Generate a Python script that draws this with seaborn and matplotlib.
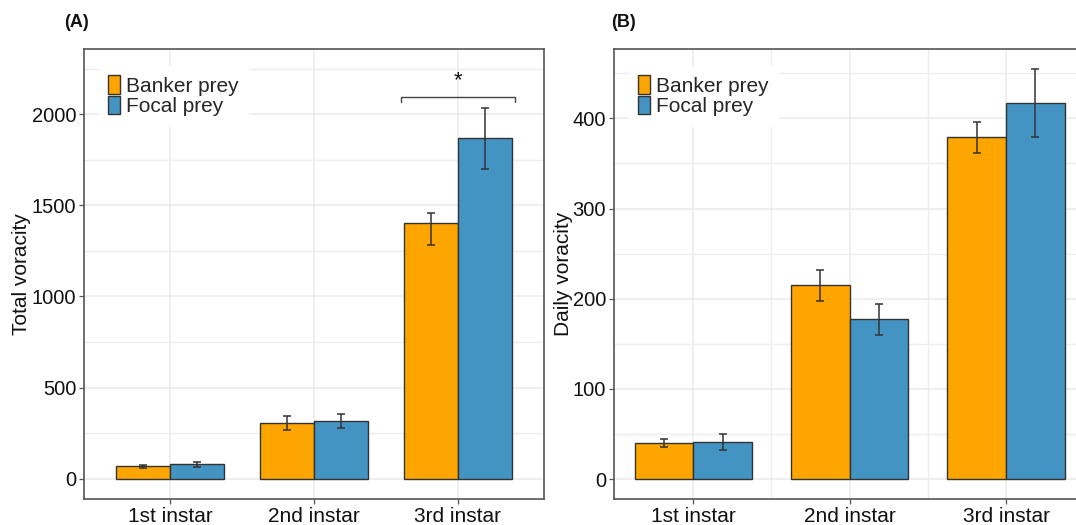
import matplotlib
matplotlib.use("Agg")
import matplotlib.pyplot as plt
from matplotlib.ticker import MultipleLocator
import seaborn as sns
import pandas as pd

# values
instars = ["1st instar", "2nd instar", "3rd instar"]
prey_types = ["Banker prey", "Focal prey"]

total_banker = [69, 307, 1404]
total_focal = [79, 316, 1868]
total_banker_lo = [8, 40, 124]
total_banker_hi = [8, 40, 53]
total_focal_lo = [14, 37, 170]
total_focal_hi = [15, 39, 167]

daily_banker = [40, 215, 379]
daily_focal = [41, 177, 417]
daily_banker_err = [4.3, 17, 17]
daily_focal_err = [8.6, 17.5, 37.6]

# significance bracket on panel A (3rd instar)
sig_group = 2
sig_y = 2095
sig_drop = 27
sig_label = "*"

colors = {"Banker prey": "#FFA500", "Focal prey": "#4393C3"}

sns.set_theme(style="white")
plt.rcParams["font.family"] = ["Liberation Sans", "DejaVu Sans"]

fig = plt.figure(figsize=(10.76, 5.25), dpi=100)
W, H = 1076, 525
axA = fig.add_axes([84 / W, 25.7 / H, 460 / W, 450.3 / H])
axB = fig.add_axes([613.7 / W, 25.7 / H, 486.2 / W, 450.3 / H])


def make_df(banker, focal):
    return pd.DataFrame({
        "instar": instars * 2,
        "prey": [prey_types[0]] * 3 + [prey_types[1]] * 3,
        "value": list(banker) + list(focal),
    })


def draw_panel(ax, df, lo, hi, ylim, major, minor_x):
    sns.barplot(data=df, x="instar", y="value", hue="prey", order=instars,
                hue_order=prey_types, palette=colors, width=0.75,
                saturation=1, errorbar=None, edgecolor="#333333",
                linewidth=1.0, ax=ax, zorder=2)
    # error bars at bar centres (patches come hue by hue)
    bars = [p for p in ax.patches if p.get_width() > 0][:6]
    xs = [b.get_x() + b.get_width() / 2 for b in bars]
    ax.errorbar(xs, df["value"], yerr=[lo, hi], fmt="none",
                ecolor="#333333", elinewidth=1.1, capsize=2.9,
                capthick=1.1, zorder=3)
    ax.set_ylim(*ylim)
    ax.yaxis.set_major_locator(MultipleLocator(major))
    ax.yaxis.set_minor_locator(MultipleLocator(major / 2))
    ax.set_xticks(range(3))
    ax.set_xticklabels(instars)
    if minor_x:
        ax.set_xticks([0.5, 1.5, 2.5], minor=True)
    ax.grid(which="major", color="#EBEBEB", linewidth=1.1, zorder=0)
    ax.grid(which="minor", axis="y", color="#EEEEEE", linewidth=1.0, zorder=0)
    if minor_x:
        ax.grid(which="minor", axis="x", color="#EEEEEE", linewidth=1.0, zorder=0)
    ax.set_axisbelow(True)
    for s in ax.spines.values():
        s.set_color("#555555")
        s.set_linewidth(1.2)
    ax.tick_params(axis="both", which="major", length=3.5, width=0.9,
                   color="#555555", pad=2, left=True, bottom=True)
    ax.tick_params(axis="y", labelsize=14.5, labelcolor="#111111")
    ax.tick_params(axis="x", labelsize=15, labelcolor="#111111")
    ax.tick_params(which="minor", length=0)
    ax.set_xlabel("")
    handles, labels = ax.get_legend_handles_labels()
    ax.get_legend().remove()
    leg = ax.legend(handles, labels, loc="upper left",
                    bbox_to_anchor=(15 / (ax.get_position().width * W), 1 - 17 / 450.3),
                    borderaxespad=0, borderpad=0.45, frameon=True,
                    fancybox=False, edgecolor="white", facecolor="white",
                    framealpha=1, fontsize=15, handlelength=0.56,
                    handleheight=1.0, labelspacing=0.0, handletextpad=0.3)
    leg.set_zorder(5)
    return ax


dfA = make_df(total_banker, total_focal)
draw_panel(axA, dfA, total_banker_lo + total_focal_lo,
           total_banker_hi + total_focal_hi, (-112, 2357), 500, False)
axA.set_xlim(-0.6, 2.6)
axA.set_ylabel("Total voracity", fontsize=15, color="#111111")
axA.yaxis.set_label_coords(-53 / 460, 0.5)

dfB = make_df(daily_banker, daily_focal)
draw_panel(axB, dfB, daily_banker_err + daily_focal_err,
           daily_banker_err + daily_focal_err, (-22.5, 477), 100, True)
axB.set_xlim(-0.509, 2.6)
axB.set_ylabel("Daily voracity", fontsize=15, color="#111111")
axB.yaxis.set_label_coords(-41 / 486.2, 0.5)

# significance bracket
x0, x1 = sig_group - 0.396, sig_group + 0.4
axA.plot([x0, x0, x1, x1], [sig_y - sig_drop, sig_y, sig_y, sig_y - sig_drop],
         color="#444444", linewidth=1.0, zorder=4)
axA.text(sig_group, sig_y + 30, sig_label, ha="center", va="bottom",
         fontsize=16, color="#111111")

fig.text(64 / W, 1 - 22.5 / H, "(A)", fontsize=13, fontweight="bold",
         ha="left", va="center", color="#111111")
fig.text(610.7 / W, 1 - 22.5 / H, "(B)", fontsize=13, fontweight="bold",
         ha="left", va="center", color="#111111")

fig.savefig("out.png", dpi=100)
